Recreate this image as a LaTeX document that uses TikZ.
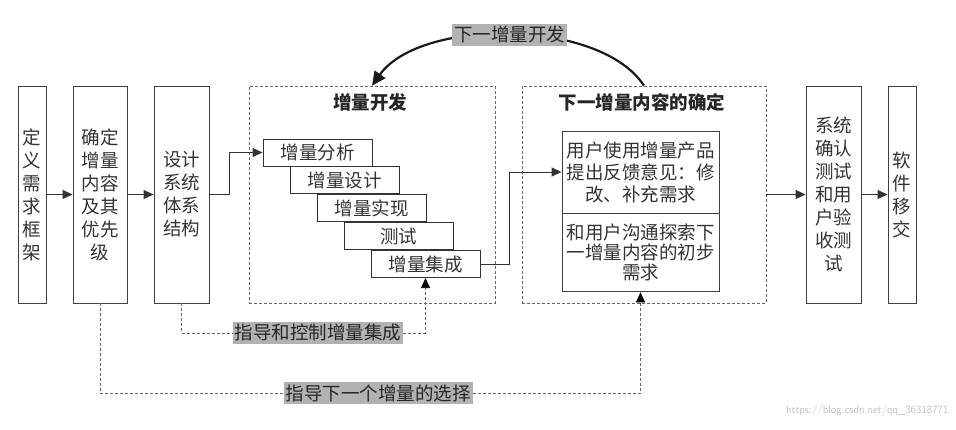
\documentclass[tikz,border=0pt]{standalone}
\usepackage{fontspec}
\setmainfont{Noto Sans CJK SC}
\usetikzlibrary{arrows.meta,% for the triangle tips
                positioning}

\begin{document}
\begin{tikzpicture}[x=1pt,y=-1pt,
  block/.style={
    rectangle,
    minimum height=217pt,
    inner sep=0pt,
    line width=0.9pt,
    draw=black!75,
    text=black!80,
    align=center,
    font=\fontsize{18.5}{23}\selectfont
  },
  stage/.style={
    rectangle,minimum width=109pt,minimum height=27pt,inner sep=0pt,
    line width=0.9pt,draw=black!80,text=black!80,
    font=\fontsize{18.5}{20}\selectfont
  },
  phase/.style={
    rectangle,minimum height=217pt,
    draw=black!60,dash pattern=on 3pt off 2pt,line width=0.6pt
  },
  heading/.style={text=black!85,font=\fontsize{18.5}{20}\selectfont\bfseries},
  tag/.style={fill=gray!60,inner sep=2pt,text=black!85,font=\fontsize{18.5}{20}\selectfont},
  flow/.style={-{Triangle[length=10pt,width=9pt]},line width=0.9pt,draw=black!80},
  guide/.style={draw=black!60,dash pattern=on 3pt off 2pt,line width=0.6pt}
]
\useasboundingbox (0,0) rectangle (956,430);

% outer boxes
\node (req)  [block, minimum width=28pt] at (32,194.5)  {定\\义\\需\\求\\框\\架};
\node (prio) [block, minimum width=54pt] at (100,194.5) {确定\\增量\\内容\\及其\\优先\\级};
\node (sys)  [block, minimum width=55pt] at (181.5,194.5) {设计\\系统\\体系\\结构};
\node (acc)  [block, minimum width=55pt] at (833.5,194.5) {系统\\确认\\测试\\和用\\户验\\收测\\试};
\node (hand) [block, minimum width=28pt] at (902,194.5) {软\\件\\移\\交};

% the two dashed phases
\node (dev) [phase, minimum width=246pt] at (372,194.5) {};
\node (nxt) [phase, minimum width=244pt] at (644,194.5) {};
\node (devt) [heading] at (370,102) {增量开发};
\node (nxtt) [heading] at (642,102) {下一增量内容的确定};

% staircase inside the first phase
\node (ana) [stage] at (317.5,152.5) {增量分析};
\node (des) [stage, anchor=north west] at ([xshift=27pt]ana.south west) {增量设计};
\node (imp) [stage, anchor=north west] at ([xshift=27pt]des.south west) {增量实现};
\node (tst) [stage, anchor=north west] at ([xshift=27pt]imp.south west) {测试};
\node (int) [stage, anchor=north west] at ([xshift=27pt]tst.south west) {增量集成};

% feedback box inside the second phase
\node (fb) [block, minimum width=157pt, minimum height=82pt,
            font=\fontsize{18.5}{22}\selectfont] at (640.5,172)
  {用户使用增量产品\\提出反馈意见：修\\改、补充需求};
\node (ex) [block, minimum width=157pt, minimum height=78pt,
            font=\fontsize{18.5}{20}\selectfont, below=0pt of fb]
  {和用户沟通探索下\\一增量内容的初步\\需求};

% main flow
\draw[flow] (req) -- (prio);
\draw[flow] (prio) -- (sys);
\draw[flow] (sys.east) -- ++(20,0) |- (ana.west);
\draw[flow] (int.east) -- ++(29,0) |- (fb.west);
\draw[flow] (nxt) -- (acc);
\draw[flow] (acc) -- (hand);

% loop back to the next increment
\draw[line width=2.2pt, draw=black!90, -{Triangle[length=14pt,width=13pt]}]
  (nxt.north) .. controls (600,18) and (420,18) .. (dev.north)
  node[tag, pos=0.5] (again) {下一增量开发};

% dashed guidance
\node (guide1) [tag] at (318,333) {指导和控制增量集成};
\node (guide2) [tag] at (378,393) {指导下一个增量的选择};
\draw[guide] (sys.south) |- (guide1.west);
\draw[guide, -{Triangle[length=10pt,width=9pt,black]}] (guide1.east) -| (int.south);
\draw[guide] (prio.south) |- (guide2.west);
\draw[guide, -{Triangle[length=10pt,width=9pt,black]}] (guide2.east) -| (ex.south);

% watermark
\node (mark) [text=black!25, font=\sffamily\fontsize{11}{12}\selectfont, anchor=east] at (952,411)
  {https://blog.csdn.net/qq\_36318771};
\end{tikzpicture}
\end{document}
